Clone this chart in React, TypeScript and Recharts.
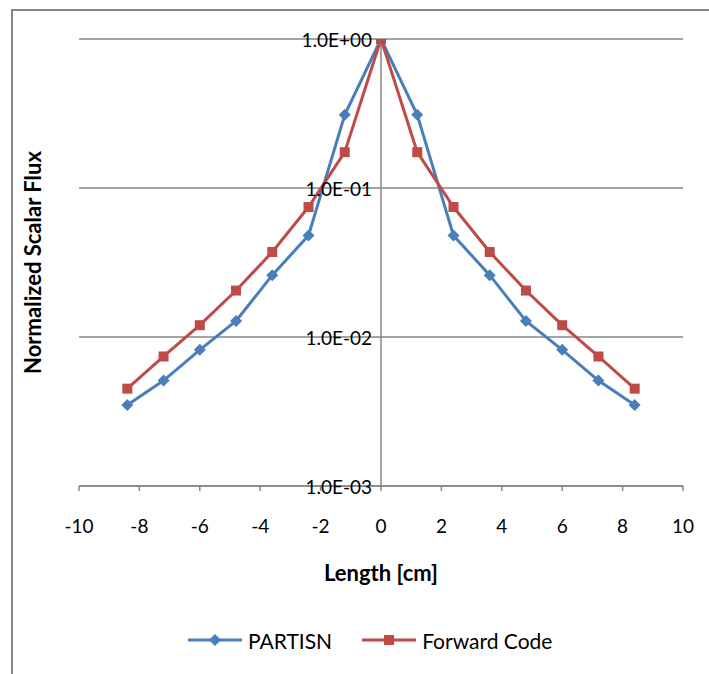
import {CartesianGrid, Label, Legend, Line, LineChart, ReferenceLine, XAxis, YAxis} from 'recharts';

const lengths = [-8.4, -7.2, -6, -4.8, -3.6, -2.4, -1.2, 0, 1.2, 2.4, 3.6, 4.8, 6, 7.2, 8.4]
const partisn = [0.0035, 0.0051, 0.0082, 0.0128, 0.026, 0.048, 0.31, 1.0, 0.31, 0.048, 0.026, 0.0128, 0.0082, 0.0051, 0.0035]
const forwardCode = [0.0045, 0.0074, 0.012, 0.0205, 0.0372, 0.0745, 0.174, 1.0, 0.174, 0.0745, 0.0372, 0.0205, 0.012, 0.0074, 0.0045]
const xTicks = [-10, -8, -6, -4, -2, 0, 2, 4, 6, 8, 10]
const yTicks = [0.001, 0.01, 0.1, 1]

const BLUE = '#4A7EBB'
const RED = '#BE4B48'
const GRAY = '#868686'
const FONT = "Lato, 'Liberation Sans', sans-serif"

const W = 709
const H = 674
const Y_AXIS_W = 79
const margin = {top: 39, right: 26, left: 0, bottom: 14}
const plotW = W - Y_AXIS_W - margin.left - margin.right

const data = lengths.map((x, i) => ({x, partisn: partisn[i], forward: forwardCode[i]}))

const sci = (v: number) => {
    const e = Math.round(Math.log10(v))
    const s = e < 0 ? '-' : '+'
    return `1.0E${s}${String(Math.abs(e)).padStart(2, '0')}`
}

const Diamond = (p: any) => {
    const {cx, cy, index} = p
    if (cx == null || cy == null) return <g key={index}/>
    return <polygon key={index} points={`${cx},${cy - 6} ${cx + 6},${cy} ${cx},${cy + 6} ${cx - 6},${cy}`} fill={BLUE}/>
}

const Square = (p: any) => {
    const {cx, cy, index} = p
    if (cx == null || cy == null) return <g key={index}/>
    return <rect key={index} x={cx - 5} y={cy - 5} width={10} height={10} fill={RED}/>
}

// Excel puts the value labels beside the vertical axis, which crosses at x = 0
const YTick = (p: any) => {
    const zeroX = Y_AXIS_W + margin.left + plotW / 2 - 9
    return (
        <text x={zeroX} y={p.y} textAnchor="end" dominantBaseline="central" fontSize={19} fontFamily={FONT} fill="#000">
            {sci(p.payload.value)}
        </text>
    )
}

const LegendItem = ({color, label, square}: {color: string, label: string, square: boolean}) => (
    <div style={{display: 'flex', alignItems: 'center', marginRight: 30}}>
        <svg width={54} height={14} style={{marginRight: 6}}>
            <line x1={0} y1={7} x2={54} y2={7} stroke={color} strokeWidth={3}/>
            {square
                ? <rect x={22} y={2} width={10} height={10} fill={color}/>
                : <polygon points="27,1 33,7 27,13 21,7" fill={color}/>}
        </svg>
        <span style={{fontSize: 21, fontFamily: FONT, color: '#000'}}>{label}</span>
    </div>
)

const ChartLegend = () => (
    <div style={{height: 40, display: 'flex', justifyContent: 'flex-start', alignItems: 'center', paddingLeft: 188}}>
        <LegendItem color={BLUE} label="PARTISN" square={false}/>
        <LegendItem color={RED} label="Forward Code" square={true}/>
    </div>
)

const App = () => {
    return (
        <div style={{position: 'absolute', left: 0, top: 0, width: W, height: H, overflow: 'hidden', background: '#fff'}}>
            <div style={{position: 'absolute', left: 11, top: 9, width: 800, height: 800, borderLeft: `2px solid ${GRAY}`, borderTop: `2px solid ${GRAY}`}}/>
            <div style={{position: 'absolute', left: 0, top: 0}}>
                <LineChart width={W} height={H} data={data} margin={margin}>
                    <CartesianGrid vertical={false} stroke={GRAY} strokeWidth={1.5}/>
                    <XAxis dataKey="x" type="number" domain={[-10, 10]} ticks={xTicks} height={134}
                           stroke={GRAY} strokeWidth={1.5} tickSize={5} tickMargin={29}
                           tick={{fill: '#000', fontSize: 19, fontFamily: FONT}}>
                        <Label value="Length [cm]" position="insideTop" offset={79}
                               style={{fontSize: 22, fontWeight: 'bold', fontFamily: FONT, fill: '#000'}}/>
                    </XAxis>
                    <YAxis type="number" scale="log" domain={[0.001, 1]} ticks={yTicks} width={Y_AXIS_W}
                           axisLine={false} tickLine={false} tick={YTick} allowDataOverflow>
                        <Label content={(p: any) => {
                            const vb = p.viewBox
                            const cx = vb.x + 32
                            const cy = vb.y + vb.height / 2
                            return (
                                <text x={cx} y={cy} transform={`rotate(-90, ${cx}, ${cy})`} textAnchor="middle"
                                      dominantBaseline="central" fontSize={22} fontWeight="bold" fontFamily={FONT} fill="#000">
                                    Normalized Scalar Flux
                                </text>
                            )
                        }}/>
                    </YAxis>
                    <ReferenceLine x={0} stroke={GRAY} strokeWidth={1.5}/>
                    <Legend verticalAlign="bottom" content={() => <ChartLegend/>}/>
                    <Line dataKey="partisn" name="PARTISN" stroke={BLUE} strokeWidth={3} dot={Diamond}
                          activeDot={false} isAnimationActive={false}/>
                    <Line dataKey="forward" name="Forward Code" stroke={RED} strokeWidth={3} dot={Square}
                          activeDot={false} isAnimationActive={false}/>
                </LineChart>
            </div>
        </div>
    )
}

export default App
